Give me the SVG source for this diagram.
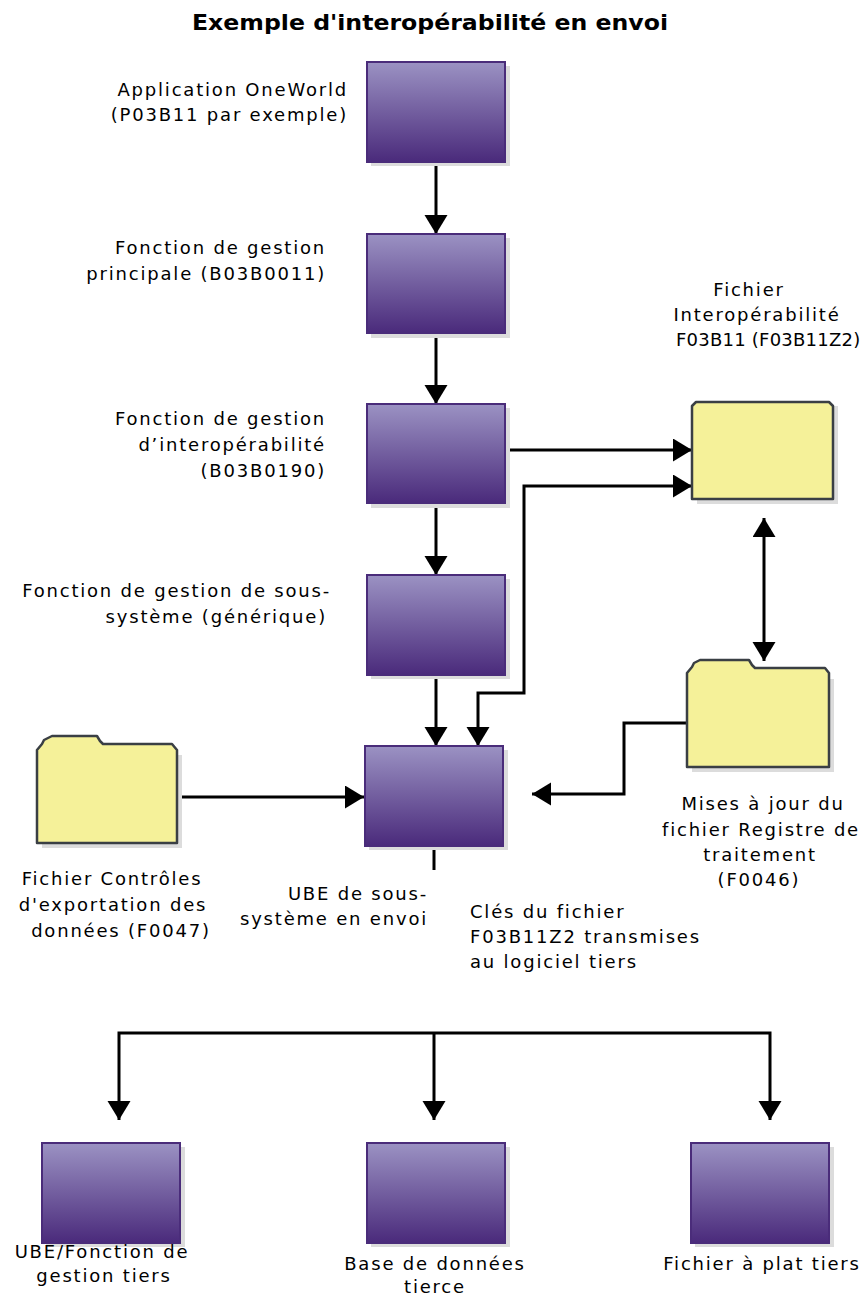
<svg xmlns="http://www.w3.org/2000/svg" width="865" height="1300" viewBox="0 0 865 1300">
  <style>
    .lbl { font-family: "DejaVu Sans", Verdana, sans-serif; font-size: 18px; letter-spacing: 1.8px; fill: #000; }
    .ttl { font-family: "DejaVu Sans", Verdana, sans-serif; font-size: 21px; font-weight: bold; fill: #000; }
    .proc { fill: url(#purpleGrad); stroke: #4a2c7a; stroke-width: 2; }
    .shadow { fill: #dcdcdc; }
    .file { fill: #f5f199; stroke: #3a3f44; stroke-width: 2.5; stroke-linejoin: round; }
    .wire { fill: none; stroke: #000; stroke-width: 3; }
  </style>
  <defs>
    <linearGradient id="purpleGrad" x1="0" y1="0" x2="0" y2="1">
      <stop offset="0" stop-color="#9b92c3"/>
      <stop offset="1" stop-color="#4a2a7b"/>
    </linearGradient>
    <marker id="arrow" markerUnits="userSpaceOnUse" markerWidth="20" markerHeight="24" refX="19" refY="11.5" orient="auto-start-reverse">
      <path d="M0,0 L19,11.5 L0,23 Z" fill="#000"/>
    </marker>
  </defs>

  <text class="ttl" x="430" y="30" text-anchor="middle" textLength="476" lengthAdjust="spacingAndGlyphs">Exemple d'interopérabilité en envoi</text>

  <!-- connectors -->
  <g id="connectors">
    <path class="wire" d="M436,163 V234" marker-end="url(#arrow)"/>
    <path class="wire" d="M436,334 V404" marker-end="url(#arrow)"/>
    <path class="wire" d="M436,504 V575" marker-end="url(#arrow)"/>
    <path class="wire" d="M436,676 V746" marker-end="url(#arrow)"/>
    <path class="wire" d="M506,450 H692" marker-end="url(#arrow)"/>
    <path class="wire" d="M478,746 V693 H524 V486 H692" marker-start="url(#arrow)" marker-end="url(#arrow)"/>
    <path class="wire" d="M764,518 V661" marker-start="url(#arrow)" marker-end="url(#arrow)"/>
    <path class="wire" d="M687,723 H624 V794 H532" marker-end="url(#arrow)"/>
    <path class="wire" d="M177,797 H364" marker-end="url(#arrow)"/>
    <path class="wire" d="M434,847 V870"/>
    <path class="wire" d="M119,1120 V1033 H770 V1120" marker-start="url(#arrow)" marker-end="url(#arrow)"/>
    <path class="wire" d="M434,1033 V1120" marker-end="url(#arrow)"/>
  </g>

  <g id="app-oneworld">
    <rect class="shadow" x="371" y="66" width="139" height="100"/>
    <rect class="proc" x="367" y="62" width="138" height="100"/>
    <text class="lbl" x="348" y="96" text-anchor="end">Application OneWorld</text>
    <text class="lbl" x="348" y="121" text-anchor="end">(P03B11 par exemple)</text>
  </g>

  <g id="main-function">
    <rect class="shadow" x="371" y="238" width="139" height="100"/>
    <rect class="proc" x="367" y="234" width="138" height="99"/>
    <text class="lbl" x="326" y="254" text-anchor="end">Fonction de gestion</text>
    <text class="lbl" x="326" y="280" text-anchor="end">principale (B03B0011)</text>
  </g>

  <g id="interop-function">
    <rect class="shadow" x="371" y="408" width="139" height="100"/>
    <rect class="proc" x="367" y="404" width="138" height="99"/>
    <text class="lbl" x="326" y="425" text-anchor="end">Fonction de gestion</text>
    <text class="lbl" x="326" y="451" text-anchor="end">d’interopérabilité</text>
    <text class="lbl" x="326" y="477" text-anchor="end">(B03B0190)</text>
  </g>

  <g id="subsystem-function">
    <rect class="shadow" x="371" y="579" width="139" height="100"/>
    <rect class="proc" x="367" y="575" width="138" height="100"/>
    <text class="lbl" x="331" y="597" text-anchor="end">Fonction de gestion de sous-</text>
    <text class="lbl" x="327" y="623" text-anchor="end">système (générique)</text>
  </g>

  <g id="subsystem-ube">
    <rect class="shadow" x="369" y="750" width="139" height="100"/>
    <rect class="proc" x="365" y="746" width="138" height="100"/>
    <text class="lbl" x="428" y="900" text-anchor="end">UBE de sous-</text>
    <text class="lbl" x="428" y="925" text-anchor="end">système en envoi</text>
  </g>

  <g id="interop-file">
    <rect class="shadow" x="697" y="406" width="141" height="98"/>
    <path class="file" d="M692,499 V406 L696,402 H829 L833,406 V499 Z"/>
    <text class="lbl" x="749" y="296" text-anchor="middle">Fichier</text>
    <text class="lbl" x="757" y="321" text-anchor="middle">Interopérabilité</text>
    <text class="lbl" x="676" y="346" textLength="186" lengthAdjust="spacing">F03B11 (F03B11Z2)</text>
  </g>

  <g id="processing-register">
    <path class="shadow" d="M692,772 V679 H834 V772 Z"/>
    <path class="file" d="M687,767 V673 L692,667 L694,663 L700,660 H749 L752,665 L755,668 H825 L829,673 V767 Z"/>
    <text class="lbl" x="763" y="810" text-anchor="middle">Mises à jour du</text>
    <text class="lbl" x="761" y="836" text-anchor="middle">fichier Registre de</text>
    <text class="lbl" x="760" y="861" text-anchor="middle">traitement</text>
    <text class="lbl" x="759" y="886" text-anchor="middle">(F0046)</text>
  </g>

  <g id="export-controls">
    <path class="shadow" d="M42,848 V755 H182 V848 Z"/>
    <path class="file" d="M37,843 V750 L42,744 L44,740 L52,736 H97 L100,741 L103,744 H172 L177,750 V843 Z"/>
    <text class="lbl" x="112" y="885" text-anchor="middle">Fichier Contrôles</text>
    <text class="lbl" x="113" y="911" text-anchor="middle">d'exportation des</text>
    <text class="lbl" x="121" y="937" text-anchor="middle">données (F0047)</text>
  </g>

  <g id="keys-note">
    <text class="lbl" x="470" y="918">Clés du fichier</text>
    <text class="lbl" x="470" y="943">F03B11Z2 transmises</text>
    <text class="lbl" x="470" y="968">au logiciel tiers</text>
  </g>

  <g id="third-party-ube">
    <rect class="shadow" x="46" y="1147" width="139" height="100"/>
    <rect class="proc" x="42" y="1143" width="138" height="100"/>
    <text class="lbl" x="102" y="1258" text-anchor="middle">UBE/Fonction de</text>
    <text class="lbl" x="104" y="1282" text-anchor="middle">gestion tiers</text>
  </g>

  <g id="third-party-db">
    <rect class="shadow" x="371" y="1147" width="139" height="100"/>
    <rect class="proc" x="367" y="1143" width="138" height="100"/>
    <text class="lbl" x="435" y="1270" text-anchor="middle">Base de données</text>
    <text class="lbl" x="435" y="1293" text-anchor="middle">tierce</text>
  </g>

  <g id="third-party-flat-file">
    <rect class="shadow" x="695" y="1147" width="139" height="100"/>
    <rect class="proc" x="691" y="1143" width="138" height="100"/>
    <text class="lbl" x="762" y="1270" text-anchor="middle">Fichier à plat tiers</text>
  </g>
</svg>
